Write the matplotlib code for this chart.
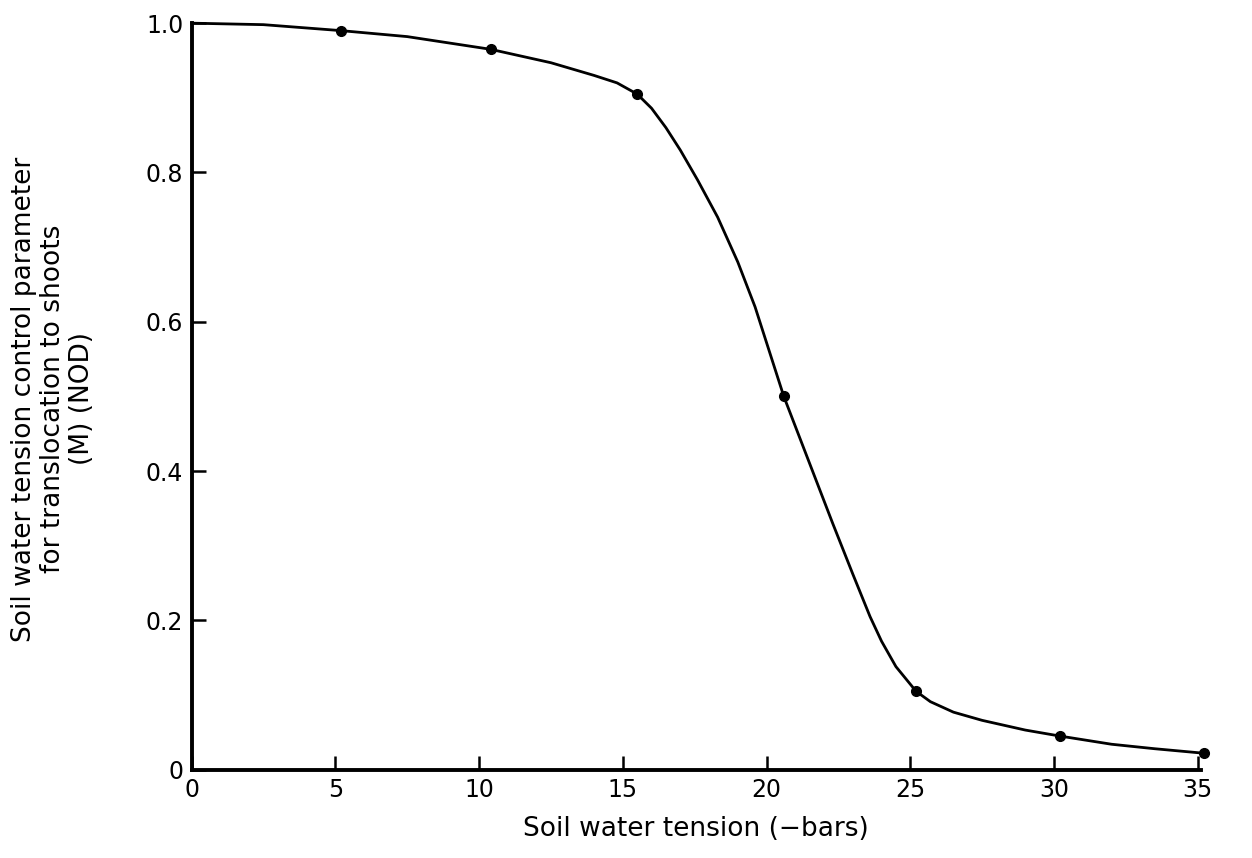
import matplotlib.pyplot as plt

# measured points (dots)
tension = [5.2, 10.4, 15.5, 20.6, 25.2, 30.2, 35.2]
m_nod = [0.99, 0.965, 0.905, 0.50, 0.105, 0.045, 0.022]

# hand-drawn curve
curve_x = [0, 2.5, 5.2, 7.5, 10.4, 12.5, 14.0, 14.8, 15.5, 16.0, 16.5, 17.0,
           17.6, 18.3, 19.0, 19.6, 20.1, 20.6, 21.1, 21.6, 22.3, 23.0, 23.6,
           24.0, 24.5, 25.2, 25.7, 26.5, 27.5, 29.0, 30.2, 32.0, 33.5, 35.2]
curve_y = [1.0, 0.998, 0.99, 0.982, 0.965, 0.947, 0.93, 0.92, 0.905, 0.886,
           0.86, 0.83, 0.79, 0.74, 0.68, 0.62, 0.56, 0.50, 0.45, 0.40, 0.33,
           0.262, 0.205, 0.172, 0.138, 0.105, 0.091, 0.077, 0.066, 0.053,
           0.045, 0.034, 0.028, 0.022]

xticks = [0, 5, 10, 15, 20, 25, 30, 35]
yticks = [0, 0.2, 0.4, 0.6, 0.8, 1.0]
ytick_labels = ["0", "0.2", "0.4", "0.6", "0.8", "1.0"]

fig = plt.figure(figsize=(12.52, 8.58), dpi=100)
ax = fig.add_axes([0.153, 0.103, 0.806, 0.870])

ax.plot(curve_x, curve_y, c='k', lw=2.0, clip_on=False,
        solid_joinstyle='round')
ax.plot(tension, m_nod, 'o', c='k', ms=7, clip_on=False)

ax.set_xlim(0, 35.1)
ax.set_ylim(0, 1.0)
ax.spines['top'].set_visible(False)
ax.spines['right'].set_visible(False)
ax.spines['left'].set_linewidth(2.8)
ax.spines['bottom'].set_linewidth(2.8)

ax.set_xticks(xticks)
ax.set_xticklabels([str(t) for t in xticks])
ax.set_yticks(yticks)
ax.set_yticklabels(ytick_labels)
ax.tick_params(direction='in', length=10, width=1.8, labelsize=17, pad=6)

ax.set_xlabel("Soil water tension (−bars)", fontsize=19, labelpad=10)
fig.text(0.042, 0.535,
         "Soil water tension control parameter\nfor translocation to shoots\n(M) (NOD)",
         rotation=90, ha='center', va='center', multialignment='center',
         fontsize=19, linespacing=1.15)

plt.savefig("out.png", dpi=100)
